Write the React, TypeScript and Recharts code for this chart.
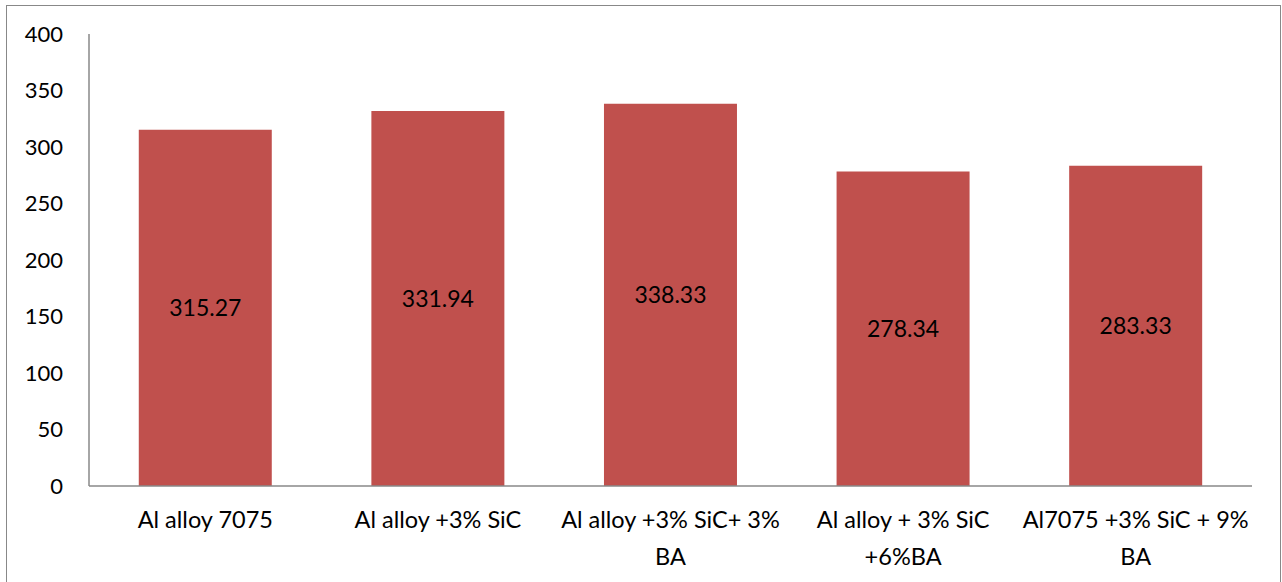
import { BarChart, Bar, XAxis, YAxis, LabelList } from "recharts"

const categories = [
  "Al alloy 7075",
  "Al alloy +3% SiC",
  "Al alloy +3% SiC+ 3% BA",
  "Al alloy + 3% SiC +6%BA",
  "Al7075 +3% SiC + 9% BA",
]

// how each category label is broken over lines under the axis
const tickLines = [
  ["Al alloy 7075"],
  ["Al alloy +3% SiC"],
  ["Al alloy +3% SiC+ 3%", "BA"],
  ["Al alloy + 3% SiC", "+6%BA"],
  ["Al7075 +3% SiC + 9%", "BA"],
]

const values = [315.27, 331.94, 338.33, 278.34, 283.33]

const yTicks = [0, 50, 100, 150, 200, 250, 300, 350, 400]

const data = categories.map((name, i) => ({ name, value: values[i] }))

const FONT = "Lato, 'Noto Sans', sans-serif"

function CategoryTick(props: any) {
  const { x, y, index } = props
  const lines = tickLines[index] ?? [String(props.payload?.value ?? "")]
  return (
    <g transform={`translate(${x},${y})`}>
      {lines.map((line, i) => (
        <text
          key={i}
          x={0}
          y={i * 37}
          dy={34}
          textAnchor="middle"
          fill="#000"
          fontSize={23.5}
          fontFamily={FONT}
        >
          {line}
        </text>
      ))}
    </g>
  )
}

export default function App() {
  return (
    <div
      style={{
        position: "absolute",
        left: 0,
        top: 0,
        width: 1282,
        height: 582,
        overflow: "hidden",
        background: "#fff",
      }}
    >
      <div
        style={{
          position: "absolute",
          left: 6,
          top: 5,
          width: 1273,
          height: 620,
          border: "1.5px solid #888",
        }}
      />
      <div style={{ position: "absolute", left: 0, top: 0 }}>
        <BarChart
          width={1282}
          height={582}
          data={data}
          margin={{ top: 34, right: 30, bottom: 0, left: 0 }}
          barCategoryGap="21.4%"
        >
          <XAxis
            dataKey="name"
            tickLine={false}
            axisLine={{ stroke: "#888", strokeWidth: 1.5 }}
            tick={<CategoryTick />}
            interval={0}
            height={96}
          />
          <YAxis
            domain={[0, 400]}
            ticks={yTicks}
            width={89}
            tickLine={false}
            tickSize={0}
            tickMargin={26}
            axisLine={{ stroke: "#888", strokeWidth: 1.5 }}
            tick={{ fill: "#000", fontSize: 22, fontFamily: FONT }}
          />
          <Bar dataKey="value" fill="#C0504D" isAnimationActive={false}>
            <LabelList
              dataKey="value"
              position="center"
              fill="#000"
              fontSize={23}
              fontFamily={FONT}
              formatter={(v: any) => Number(v).toFixed(2)}
            />
          </Bar>
        </BarChart>
      </div>
    </div>
  )
}
